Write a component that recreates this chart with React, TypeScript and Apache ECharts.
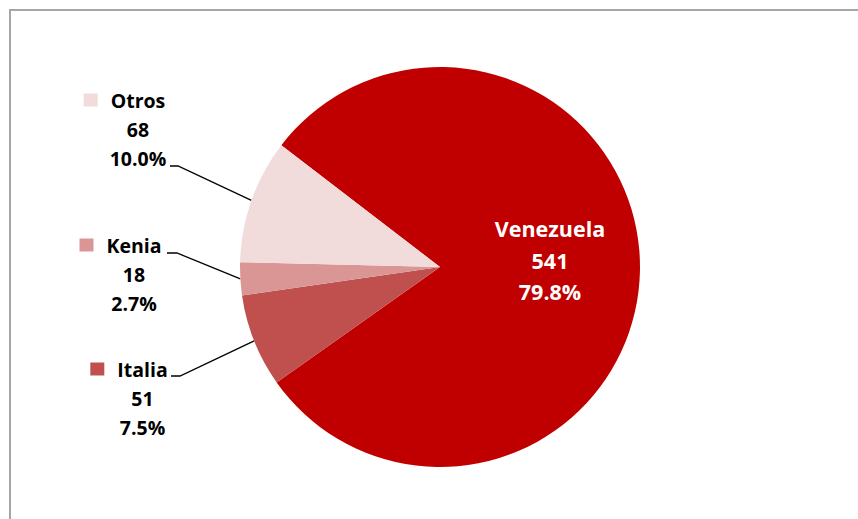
import React, { useEffect, useRef } from 'react';
import * as echarts from 'echarts';

const categories = ['Venezuela', 'Italia', 'Kenia', 'Otros'];
const values = [541, 51, 18, 68];
const colors = ['#C00000', '#C0504D', '#D99694', '#F2DCDB'];

// label anchors (centre of each text block), in px
const labelAnchors: Record<string, number[]> = {
  Venezuela: [550, 260],
  Italia: [142.5, 398],
  Kenia: [134, 274],
  Otros: [138, 129],
};
// elbow and end of each leader line, in px
const leaderEnds: Record<string, number[][]> = {
  Italia: [[180, 376], [171, 376]],
  Kenia: [[177, 253], [167, 253]],
  Otros: [[178, 166], [170, 166]],
};

const FONT = '"Open Sans", sans-serif';

export default function App() {
  const ref = useRef<HTMLDivElement>(null);
  useEffect(() => {
    document.body.style.margin = '0';
    document.body.style.overflow = 'hidden';
    const chart = echarts.init(ref.current!, null, { renderer: 'svg' });
    const txt = (size: number, color: string, lh: number) => ({
      fontFamily: FONT,
      fontSize: size,
      fontWeight: 'bold',
      color,
      lineHeight: lh,
    });
    chart.setOption({
      animation: false,
      graphic: [
        {
          type: 'rect',
          silent: true,
          shape: { x: 10, y: 10, width: 1000, height: 1000 },
          style: { fill: 'none', stroke: '#a6a6a6', lineWidth: 2 },
        },
      ],
      series: [
        {
          type: 'pie',
          center: [440, 267],
          radius: 200,
          startAngle: 142.5,
          clockwise: true,
          percentPrecision: 1,
          avoidLabelOverlap: false,
          itemStyle: { borderWidth: 0 },
          emphasis: { disabled: true },
          data: categories.map((name, i) => ({
            name,
            value: values[i],
            itemStyle: { color: colors[i] },
            label:
              i === 0
                ? {
                    show: true,
                    position: 'inside',
                    formatter: (p: any) =>
                      `{w|${p.name}}\n{w|${p.value}}\n{w|${p.percent.toFixed(1)}%}`,
                    rich: { w: { ...txt(21.5, '#ffffff', 31.5), align: 'center' } },
                  }
                : {
                    show: true,
                    position: 'outside',
                    formatter: (p: any) =>
                      `{sq|}{sp|}{n|${p.name}}{sp2|}\n{n|${p.value}}\n{n|${p.percent.toFixed(1)}%}`,
                    rich: {
                      sq: { width: 14, height: 13, backgroundColor: colors[i], lineHeight: 29, verticalAlign: 'middle' },
                      sp: { width: 13, height: 13, lineHeight: 29 },
                      sp2: { width: 27, height: 13, lineHeight: 29 },
                      n: txt(19.5, '#000000', 29),
                    },
                  },
            labelLine: {
              show: i !== 0,
              lineStyle: { color: '#000000', width: 1.3 },
            },
          })),
          labelLayout: (p: any) => {
            const name = categories[p.dataIndex];
            const a = labelAnchors[name];
            const res: any = { x: a[0], y: a[1], align: 'center', verticalAlign: 'middle' };
            const le = leaderEnds[name];
            if (le && p.labelLinePoints && p.labelLinePoints[0]) {
              res.labelLinePoints = [p.labelLinePoints[0], le[0], le[1]];
            }
            return res;
          },
        },
      ],
    });
    return () => chart.dispose();
  }, []);
  return <div ref={ref} style={{ width: 858, height: 519 }} />;
}
